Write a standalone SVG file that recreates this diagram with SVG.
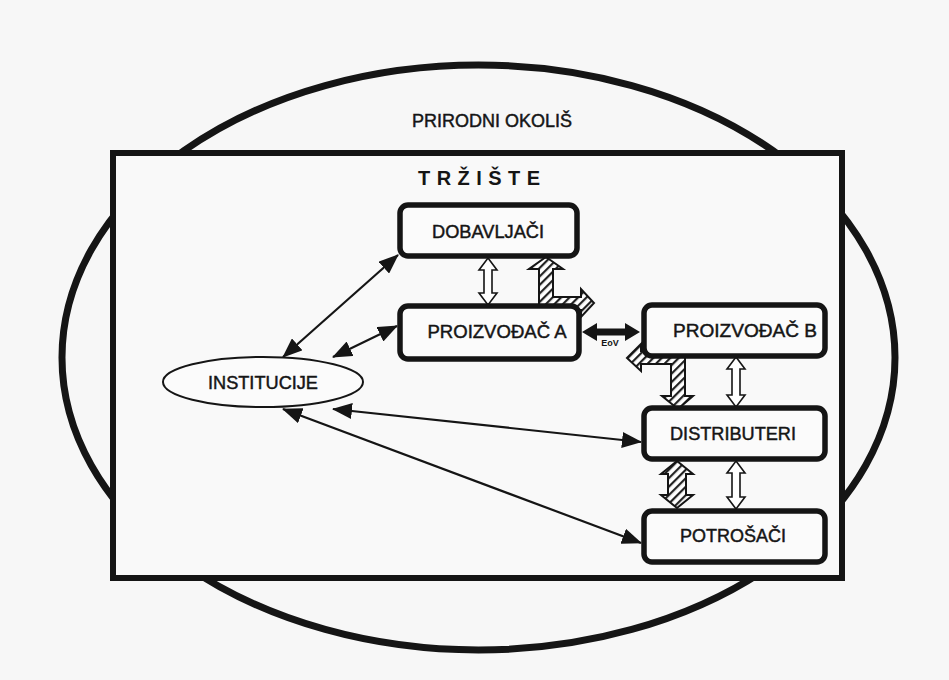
<svg xmlns="http://www.w3.org/2000/svg" width="949" height="680" viewBox="0 0 949 680">
  <defs>
    <style>
      .lbl { font-family: "Liberation Sans", Arial, sans-serif; font-size: 18px; fill: #151515; stroke: #151515; stroke-width: 0.45; text-anchor: middle; }
      .node { fill: #fbfbfb; stroke: #151515; stroke-width: 5.5; }
      .thin { stroke: #151515; stroke-width: 2.2; fill: none; marker-start: url(#ah); marker-end: url(#ah); }
      .hollow { fill: #fff; stroke: #151515; stroke-width: 1.6; stroke-linejoin: miter; }
      .hatched { fill: url(#hatch); stroke: #151515; stroke-width: 2; stroke-linejoin: miter; }
    </style>
    <pattern id="hatch" patternUnits="userSpaceOnUse" width="6" height="6" patternTransform="rotate(45)">
      <rect width="6" height="6" fill="#fff"/>
      <line x1="1" y1="0" x2="1" y2="6" stroke="#222" stroke-width="2.4"/>
    </pattern>
    <marker id="ah" viewBox="0 0 20 16" refX="19" refY="8" markerWidth="20" markerHeight="16" markerUnits="userSpaceOnUse" orient="auto-start-reverse">
      <path d="M0,0 L20,8 L0,16 z" fill="#151515"/>
    </marker>
  </defs>

  <rect x="0" y="0" width="949" height="680" fill="#f7f7f7"/>

  <g id="prirodni-okolis">
    <ellipse cx="478.5" cy="357.5" rx="416.5" ry="292.5" fill="none" stroke="#151515" stroke-width="7"/>
    <text class="lbl" x="492" y="127" textLength="160" lengthAdjust="spacingAndGlyphs">PRIRODNI OKOLIŠ</text>
  </g>

  <g id="trziste">
    <rect x="113" y="153" width="729" height="425" fill="#f9f9f9" stroke="#151515" stroke-width="6"/>
    <text x="479" y="185" font-family="'Liberation Sans', Arial, sans-serif" font-size="20" font-weight="bold" fill="#151515" text-anchor="middle" textLength="122" lengthAdjust="spacing">TRŽIŠTE</text>
  </g>

  <g id="connectors">
    <!-- thin double-headed arrows to/from INSTITUCIJE -->
    <line class="thin" x1="283" y1="357" x2="398" y2="255"/>
    <line class="thin" x1="333" y1="357" x2="397" y2="326"/>
    <line class="thin" x1="333" y1="409" x2="641" y2="442"/>
    <line class="thin" x1="283" y1="409" x2="641" y2="543"/>

    <!-- hollow double arrows -->
    <polygon class="hollow" points="488,258 497,270 492,270 492,293 497,293 488,305 479,293 484,293 484,270 479,270"/>
    <polygon class="hollow" points="736,357 745,369 740,369 740,395 745,395 736,407 727,395 732,395 732,369 727,369"/>
    <polygon class="hollow" points="736,461 745,473 740,473 740,497 745,497 736,509 727,497 732,497 732,473 727,473"/>

    <!-- hatched arrows -->
    <polygon class="hatched" points="546,257 563,269 553,269 553,297 581,297 581,289 594,303 581,317 581,310 539,310 539,269 529,269"/>
    <polygon class="hatched" points="627,358 641,344 641,351 685,351 685,396 693,396 678,409 662,396 671,396 671,364 641,364 641,371"/>
    <polygon class="hatched" points="677,461 693,474 686,474 686,495 693,495 677,508 661,495 668,495 668,474 661,474"/>

    <!-- EoV thick arrow -->
    <polygon fill="#151515" points="582,332 597,323 597,328.5 625,328.5 625,323 640,332 625,341 625,335.5 597,335.5 597,341"/>
    <text x="610" y="346" font-family="'Liberation Sans', Arial, sans-serif" font-size="9" font-weight="bold" fill="#151515" text-anchor="middle">EoV</text>
  </g>

  <g id="dobavljaci">
    <rect class="node" x="400" y="205" width="177" height="51" rx="8"/>
    <text class="lbl" x="488" y="238" textLength="112" lengthAdjust="spacingAndGlyphs">DOBAVLJAČI</text>
  </g>

  <g id="proizvodac-a">
    <rect class="node" x="400" y="306" width="179" height="53" rx="8"/>
    <text class="lbl" x="497" y="338" textLength="139" lengthAdjust="spacingAndGlyphs">PROIZVOĐAČ A</text>
  </g>

  <g id="proizvodac-b">
    <rect class="node" x="644" y="305" width="181" height="51" rx="8"/>
    <text class="lbl" x="745" y="337" textLength="144" lengthAdjust="spacingAndGlyphs">PROIZVOĐAČ B</text>
  </g>

  <g id="distributeri">
    <rect class="node" x="644" y="408" width="181" height="51" rx="8"/>
    <text class="lbl" x="733" y="440" textLength="126" lengthAdjust="spacingAndGlyphs">DISTRIBUTERI</text>
  </g>

  <g id="potrosaci">
    <rect class="node" x="644" y="511" width="181" height="51" rx="8"/>
    <text class="lbl" x="733" y="542" textLength="106" lengthAdjust="spacingAndGlyphs">POTROŠAČI</text>
  </g>

  <g id="institucije">
    <ellipse cx="263" cy="382" rx="100" ry="25" fill="#fbfbfb" stroke="#151515" stroke-width="2"/>
    <text class="lbl" x="263" y="389" textLength="110" lengthAdjust="spacingAndGlyphs">INSTITUCIJE</text>
  </g>
</svg>
